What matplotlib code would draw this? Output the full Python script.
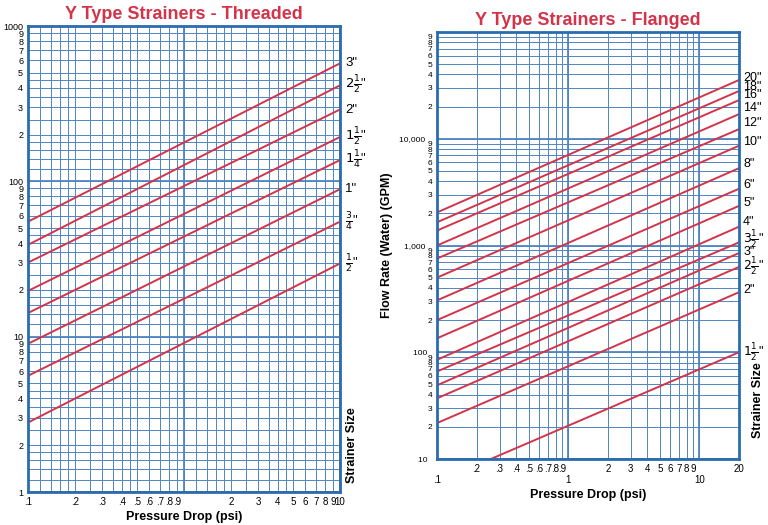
import numpy as np
import matplotlib
matplotlib.use('Agg')
import matplotlib.pyplot as plt
from matplotlib.ticker import FixedLocator, NullFormatter

plt.rcParams['font.family'] = 'Liberation Sans'

# threaded: flow (GPM) at 0.1 psi and at 10 psi
thr_sizes = ['3"', r'$2\frac{1}{2}$"', '2"', r'$1\frac{1}{2}$"', r'$1\frac{1}{4}$"', '1"', r'$\frac{3}{4}$"', r'$\frac{1}{2}$"']
thr_dp = [0.1, 10]
thr_q_start = [55, 39, 30, 19.7, 14.2, 9.0, 5.6, 2.8]
thr_q_end = [575, 415, 290, 193, 137, 89, 55, 29.6]

# flanged: flow (GPM) at start and at 20 psi
fl_sizes = ['20"', '18"', '16"', '14"', '12"', '10"', '8"', '6"', '5"', '4"', r'$3\frac{1}{2}$"', '3"', r'$2\frac{1}{2}$"', '2"', r'$1\frac{1}{2}$"']
fl_dp_start = [0.1] * 14 + [0.257]
fl_dp_end = 20
fl_q_start = [2040, 1650, 1380, 1000, 755, 500, 306, 200, 135, 85, 66, 49, 37, 21.7, 10]
fl_q_end = [35500, 28000, 23000, 17000, 12300, 8600, 5300, 3400, 2350, 1500, 1070, 850, 630, 365, 100]
fl_label_y = [37000, 30500, 25500, 19500, 14000, 9300, 5800, 3700, 2500, 1650, 1150, 870, 640, 380, 100]

RED = '#d2344a'
BLUE = '#2b6cb0'
GRID = '#4f86c2'

fig = plt.figure(figsize=(7.68, 5.25), dpi=100)
W, H = 768, 525


def axes_px(x0, y0, x1, y1):
    return fig.add_axes([x0 / W, 1 - y1 / H, (x1 - x0) / W, (y1 - y0) / H])


def subdiv(lo_dec, hi_dec, fine):
    vals = []
    for d in range(lo_dec, hi_dec):
        base = 10.0 ** d
        if fine:
            steps = list(np.arange(1, 2, 0.2)) + list(np.arange(2, 5, 0.5)) + list(range(5, 10))
        else:
            steps = range(1, 10)
        vals += [s * base for s in steps]
    return vals


def style_ax(ax, fine):
    ax.set_xscale('log')
    ax.set_yscale('log')
    x0, x1 = ax.get_xlim()
    y0, y1 = ax.get_ylim()
    xs = [v for v in subdiv(-1, 2, fine) if x0 <= v <= x1]
    ys = [v for v in subdiv(0, 5, fine) if y0 <= v <= y1]
    for v in xs:
        ax.axvline(v, color=GRID, lw=0.7, zorder=0)
    for v in ys:
        ax.axhline(v, color=GRID, lw=0.7, zorder=0)
    for v in [0.1, 1, 10, 100, 1000, 10000]:
        ax.axvline(v, color=GRID, lw=1.3, zorder=0)
        ax.axhline(v, color=GRID, lw=1.3, zorder=0)
    for s in ax.spines.values():
        s.set_color(BLUE)
        s.set_linewidth(2)
    ax.tick_params(length=0, labelsize=7)
    ax.yaxis.set_minor_formatter(NullFormatter())
    ax.xaxis.set_minor_formatter(NullFormatter())


def lab(v):
    s = '%g' % v
    return s[1:] if s.startswith('0.') else s


def digit(v):
    return str(int(round(v / 10 ** np.floor(np.log10(v) + 1e-9))))


# ---- threaded
ax1 = axes_px(28, 26, 340, 492)
ax1.set_xlim(0.1, 10)
ax1.set_ylim(1, 1000)
style_ax(ax1, True)
for q0, q1, name in zip(thr_q_start, thr_q_end, thr_sizes):
    ax1.plot(thr_dp, [q0, q1], color=RED, lw=1.4)
    ax1.text(10.8, q1, name, fontsize=9.5, va='center', ha='left')
xt = [m * 10.0 ** d for d in (-1, 0) for m in range(1, 10)] + [10]
ax1.xaxis.set_major_locator(FixedLocator(xt))
ax1.set_xticklabels(['' if v == 1 else lab(v) for v in xt])
yt = [m * 10.0 ** d for d in (0, 1, 2) for m in range(1, 10)] + [1000]
ax1.yaxis.set_major_locator(FixedLocator(yt))
ax1.set_yticklabels([('%d' % v) if v in (1, 10, 100, 1000) else digit(v) for v in yt], fontsize=6.5)
ax1.set_xlabel('Pressure Drop (psi)', fontsize=9, fontweight='bold', labelpad=3)
ax1.set_title('Y Type Strainers - Threaded', color=RED, fontsize=13, fontweight='bold', pad=5)
fig.text(352 / W, 1 - 445 / H, 'Strainer Size', rotation=90, fontsize=9, fontweight='bold', ha='center', va='center')

# ---- flanged
ax2 = axes_px(437, 32, 739, 459)
ax2.set_xlim(0.1, 20)
ax2.set_ylim(10, 100000)
style_ax(ax2, False)
for d0, q0, q1 in zip(fl_dp_start, fl_q_start, fl_q_end):
    ax2.plot([d0, fl_dp_end], [q0, q1], color=RED, lw=1.4)
for yy, name in zip(fl_label_y, fl_sizes):
    ax2.text(21.5, yy, name, fontsize=9, va='center', ha='left')
xt2 = [m * 10.0 ** d for d in (-1, 0) for m in range(1, 10)] + [10, 20]
ax2.xaxis.set_major_locator(FixedLocator(xt2))
ax2.set_xticklabels([lab(v) for v in xt2])
for t, v in zip(ax2.get_xticklabels(), xt2):
    if v in (0.1, 1, 10):
        t.set_y(-0.025)
ytv = [m * 10.0 ** d for d in (1, 2, 3, 4) for m in range(1, 10)]
ytl = []
for v in ytv:
    if v in (10, 100):
        ytl.append('%d  ' % v)
    elif v in (1000, 10000):
        ytl.append('{:,}   '.format(int(v)))
    else:
        ytl.append(digit(v))
ax2.yaxis.set_major_locator(FixedLocator(ytv))
ax2.set_yticklabels(ytl, fontsize=6)
ax2.set_xlabel('Pressure Drop (psi)', fontsize=9, fontweight='bold', labelpad=3)
ax2.set_ylabel('Flow Rate (Water) (GPM)', fontsize=9, fontweight='bold')
ax2.set_title('Y Type Strainers - Flanged', color=RED, fontsize=13, fontweight='bold', pad=5)
fig.text(758 / W, 1 - 400 / H, 'Strainer Size', rotation=90, fontsize=9, fontweight='bold', ha='center', va='center')

fig.savefig('out.png', dpi=100)
